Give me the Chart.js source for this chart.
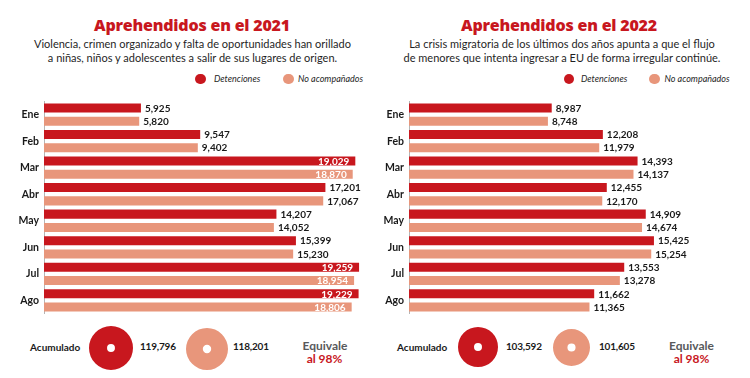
<!DOCTYPE html>
<html>
<head>
<meta charset="utf-8">
<script src="https://cdn.jsdelivr.net/npm/chart.js@4.4.1/dist/chart.umd.min.js"></script>
<style>
  html,body{margin:0;padding:0;background:#fff;}
  #wrap{position:relative;width:750px;height:378px;overflow:hidden;background:#fff;}
  .t{position:absolute;white-space:nowrap;}
  .title{font-family:"Open Sans",sans-serif;font-weight:800;font-size:16px;line-height:1.362;color:#c8171e;text-align:center;letter-spacing:-0.2px;}
  .sub{font-family:Lato,sans-serif;font-size:11px;line-height:13.7px;color:#1f1f1f;text-align:center;}
  .leg{font-family:Lato,sans-serif;font-style:italic;font-size:9px;line-height:1.2;color:#1f1f1f;}
  .dot{position:absolute;width:10.6px;height:10.6px;border-radius:50%;}
  .acum{font-family:Lato,sans-serif;font-weight:700;font-size:10px;line-height:1.2;color:#1a1a1a;}
  .tot{font-family:Lato,sans-serif;font-weight:700;font-size:10px;line-height:1.2;color:#1a1a1a;letter-spacing:-0.2px;}
  .eq{font-family:Lato,sans-serif;font-weight:700;font-size:12px;line-height:1.2;color:#58595b;text-align:center;width:80px;}
  .pct{font-family:Lato,sans-serif;font-weight:700;font-size:12px;line-height:1.2;color:#c8171e;text-align:center;width:80px;}
  canvas{position:absolute;}
</style>
</head>
<body>
<div id="wrap">
  <div class="t title" style="left:0;width:384px;top:15.4px;">Aprehendidos en el 2021</div>
  <div class="t sub" style="left:0;width:385px;top:37.2px;">Violencia, crimen organizado y falta de oportunidades han orillado<br>a niñas, niños y adolescentes a salir de sus lugares de origen.</div>
  <div class="dot" style="left:195px;top:73.9px;background:#c8171e;"></div>
  <div class="t leg" style="left:214px;top:73.8px;">Detenciones</div>
  <div class="dot" style="left:283px;top:73.9px;background:#e8967b;"></div>
  <div class="t leg" style="left:298px;top:73.8px;">No acompañados</div>

  <div class="t title" style="left:375px;width:368px;top:15.4px;">Aprehendidos en el 2022</div>
  <div class="t sub" style="left:375px;width:374px;top:37.2px;">La crisis migratoria de los últimos dos años apunta a que el flujo<br>de menores que intenta ingresar a EU de forma irregular continúe.</div>
  <div class="dot" style="left:563.5px;top:73.9px;background:#c8171e;"></div>
  <div class="t leg" style="left:581px;top:73.8px;">Detenciones</div>
  <div class="dot" style="left:649px;top:73.9px;background:#e8967b;"></div>
  <div class="t leg" style="left:664.5px;top:73.8px;">No acompañados</div>

  <canvas id="bars21" width="375" height="235" style="left:0;top:90px;"></canvas>
  <canvas id="bars22" width="375" height="235" style="left:375px;top:90px;"></canvas>

  <div class="t acum" style="left:30px;top:340.8px;">Acumulado</div>
  <canvas id="d21a" width="44" height="44" style="left:89px;top:326px;"></canvas>
  <div class="t tot" id="tot21a" style="left:140px;top:340.4px;"></div>
  <canvas id="d21b" width="42" height="42" style="left:186px;top:328px;"></canvas>
  <div class="t tot" id="tot21b" style="left:233px;top:340.4px;"></div>
  <div class="t eq" style="left:285px;top:339.2px;">Equivale</div>
  <div class="t pct" style="left:284.5px;top:352.4px;">al 98%</div>

  <div class="t acum" style="left:397px;top:340.8px;">Acumulado</div>
  <canvas id="d22a" width="40" height="40" style="left:458px;top:327px;"></canvas>
  <div class="t tot" id="tot22a" style="left:506px;top:340.4px;"></div>
  <canvas id="d22b" width="37" height="37" style="left:553px;top:328.5px;"></canvas>
  <div class="t tot" id="tot22b" style="left:599px;top:340.4px;"></div>
  <div class="t eq" style="left:651.5px;top:339px;">Equivale</div>
  <div class="t pct" style="left:651.5px;top:352.2px;">al 98%</div>
</div>
<script>
const months = ['Ene','Feb','Mar','Abr','May','Jun','Jul','Ago'];
const detenciones2021 = [5925, 9547, 19029, 17201, 14207, 15399, 19259, 19229];
const noAcompanados2021 = [5820, 9402, 18870, 17067, 14052, 15230, 18954, 18806];
const detenciones2022 = [8987, 12208, 14393, 12455, 14909, 15425, 13553, 11662];
const noAcompanados2022 = [8748, 11979, 14137, 12170, 14674, 15254, 13278, 11365];
const acumulado2021 = [119796, 118201];
const acumulado2022 = [103592, 101605];
const seriesNames = ['Detenciones', 'No acompañados'];

const RED = '#c8171e';
const SALMON = '#e8967b';
const fmt = v => v.toLocaleString('en-US');

const valueLabels = {
  id: 'valueLabels',
  afterDatasetsDraw(chart, args, opts) {
    const ctx = chart.ctx;
    ctx.save();
    ctx.font = '700 10px Lato, sans-serif';
    ctx.textBaseline = 'middle';
    chart.data.datasets.forEach((ds, i) => {
      const meta = chart.getDatasetMeta(i);
      meta.data.forEach((bar, j) => {
        const v = ds.data[j];
        const txt = fmt(v);
        if (v > opts.insideAbove) {
          ctx.fillStyle = '#ffffff';
          ctx.textAlign = 'right';
          ctx.fillText(txt, bar.x - 6, bar.y + 0.5);
        } else {
          ctx.fillStyle = '#1a1a1a';
          ctx.textAlign = 'left';
          ctx.fillText(txt, bar.x + 4, bar.y + 0.5);
        }
      });
    });
    ctx.restore();
  }
};

function barChart(id, det, noac, axisW, pad, insideAbove) {
  return new Chart(document.getElementById(id), {
    type: 'bar',
    data: {
      labels: months,
      datasets: [
        {label: seriesNames[0], data: det, backgroundColor: RED, borderWidth: 0, barPercentage: 0.68, categoryPercentage: 1},
        {label: seriesNames[1], data: noac, backgroundColor: SALMON, borderWidth: 0, barPercentage: 0.68, categoryPercentage: 1}
      ]
    },
    options: {
      indexAxis: 'y',
      responsive: false,
      animation: false,
      events: [],
      layout: {padding: pad},
      plugins: {legend: {display: false}, tooltip: {enabled: false}, valueLabels: {insideAbove}},
      scales: {
        x: {display: false, min: 0, max: 20000},
        y: {
          grid: {display: false, drawTicks: false},
          border: {display: true, color: '#b5b5b5', width: 1},
          ticks: {font: {family: 'Lato', weight: '700', size: 10.5}, color: '#1a1a1a', padding: 5},
          afterFit(scale) { scale.width = axisW; }
        }
      }
    },
    plugins: [valueLabels]
  });
}

barChart('bars21', detenciones2021, noAcompanados2021, 44, {top: 4.7, right: 3.8, bottom: 3.1, left: 0}, 18000);
barChart('bars22', detenciones2022, noAcompanados2022, 34, {top: 6.75, right: 23.4, bottom: 3.45, left: 0}, Infinity);

function donut(id, value, color, cut) {
  return new Chart(document.getElementById(id), {
    type: 'doughnut',
    data: {labels: [''], datasets: [{data: [value], backgroundColor: color, borderWidth: 0}]},
    options: {
      responsive: false, animation: false, events: [], cutout: cut,
      plugins: {legend: {display: false}, tooltip: {enabled: false}}
    }
  });
}
donut('d21a', acumulado2021[0], RED, '18%');
donut('d21b', acumulado2021[1], SALMON, '20%');
donut('d22a', acumulado2022[0], RED, '20%');
donut('d22b', acumulado2022[1], SALMON, '22%');
document.getElementById('tot21a').textContent = fmt(acumulado2021[0]);
document.getElementById('tot21b').textContent = fmt(acumulado2021[1]);
document.getElementById('tot22a').textContent = fmt(acumulado2022[0]);
document.getElementById('tot22b').textContent = fmt(acumulado2022[1]);
</script>
</body>
</html>
